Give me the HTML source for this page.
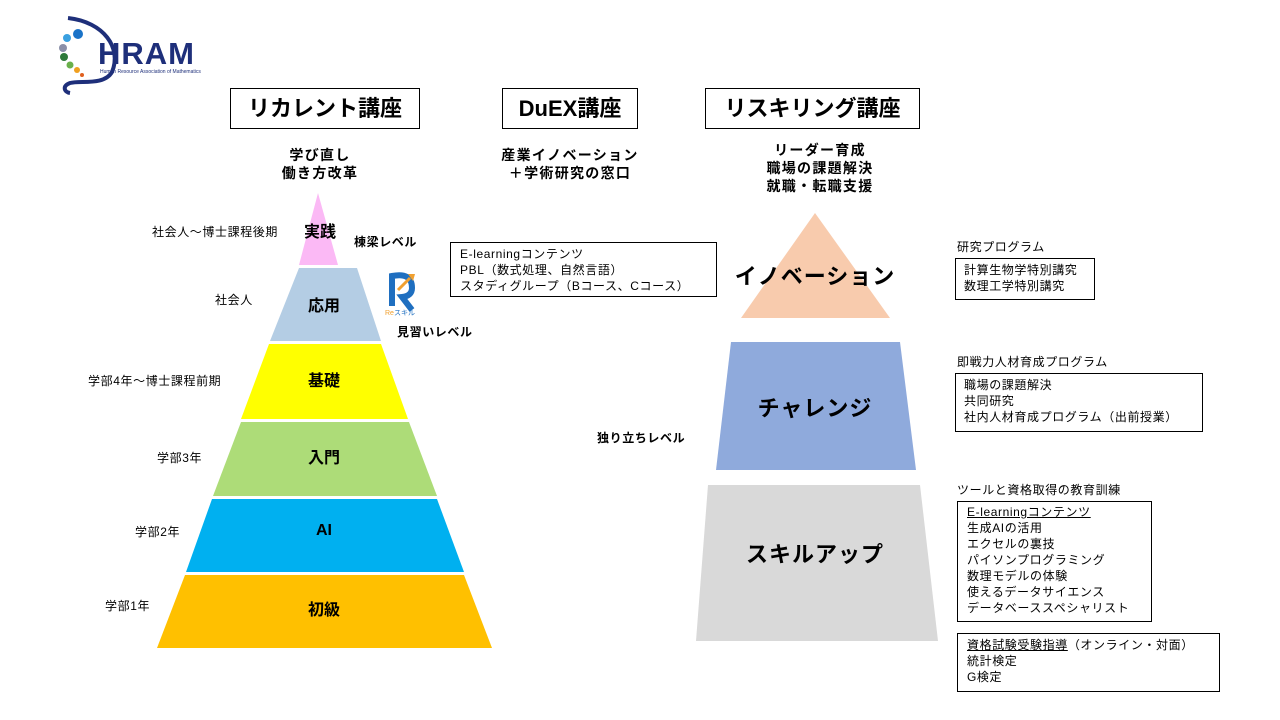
<!DOCTYPE html>
<html><head><meta charset="utf-8"><style>
body{margin:0;width:1280px;height:720px;background:#fff;position:relative;overflow:hidden;font-family:"Liberation Sans","Noto Sans CJK JP",sans-serif;color:#000}
.a{position:absolute;white-space:nowrap}
.box{position:absolute;border:1px solid #000;background:#fff}
.s{font-size:12px;line-height:16px;letter-spacing:0.6px}
.b{font-weight:bold}
.h{font-size:14px;line-height:18px;letter-spacing:1.3px}
.p{font-size:16px}
.r{font-size:22px;letter-spacing:1px}
</style></head><body>
<svg class="a" style="left:0;top:0" width="1280" height="720">
<path d="M68 18 C104 22 122 48 112 72 C104 86 80 80 70 83 C62 86 64 92 70 93" fill="none" stroke="#1e2f7a" stroke-width="4"/>
<circle cx="78" cy="34" r="5" fill="#1a73c8"/><circle cx="67" cy="38" r="4" fill="#3aa0e0"/>
<circle cx="63" cy="48" r="4" fill="#8a8fa8"/><circle cx="64" cy="57" r="4" fill="#2e7a3a"/>
<circle cx="70" cy="65" r="3.5" fill="#6ab04c"/><circle cx="77" cy="70" r="3" fill="#f0a020"/><circle cx="82" cy="75" r="2" fill="#e06020"/>
<text x="98" y="64" font-family="Liberation Sans" font-weight="bold" font-size="31" letter-spacing="1" fill="#1e2f7a">HRAM</text>
<text x="100" y="73" font-family="Liberation Sans" font-size="5" fill="#1e2f7a">Human Resource Association of Mathematics</text>
<polygon points="318,193 338,265 299,265" fill="#fbb9f5"/>
<polygon points="299,268 357,268 381,341 270,341" fill="#b4cde4"/>
<polygon points="269,344 381,344 408,419 241,419" fill="#ffff00"/>
<polygon points="241,422 409,422 437,496 213,496" fill="#addc78"/>
<polygon points="212,499 437,499 464,572 186,572" fill="#00b0f0"/>
<polygon points="185,575 464,575 492,648 157,648" fill="#ffc000"/>
<polygon points="815,213 890,318 741,318" fill="#f8cbad"/>
<polygon points="731,342 900,342 916,470 716,470" fill="#8faadc"/>
<polygon points="708,485 920,485 938,641 696,641" fill="#d9d9d9"/>
<path d="M392 306 L392 276 Q412 272 412 288 Q412 296 402 297 L412 310" fill="none" stroke="#1f6fc0" stroke-width="6"/>
<line x1="398" y1="290" x2="410" y2="278" stroke="#f0a030" stroke-width="3"/>
<polygon points="408,274 415,274 413,281" fill="#f0a030"/>
<text x="385" y="315" font-size="7" fill="#f0a030" font-family="Liberation Sans,Noto Sans CJK JP">Re<tspan fill="#1f6fc0">スキル</tspan></text>
<path d="M512 119 q2 -2 4 0 t4 0 t4 0 t4 0 t4 0 t4 0" stroke="#e03030" fill="none" stroke-width="0.8"/>
</svg>

<div class="box b" style="left:230px;top:88px;width:188px;height:39px;font-size:22px;line-height:39px;text-align:center">リカレント講座</div>
<div class="box b" style="left:502px;top:88px;width:134px;height:39px;font-size:22px;line-height:39px;text-align:center">DuEX講座</div>
<div class="box b" style="left:705px;top:88px;width:213px;height:39px;font-size:22px;line-height:39px;text-align:center">リスキリング講座</div>

<div class="a b h" style="left:260px;top:146px;width:120px;text-align:center">学び直し<br>働き方改革</div>
<div class="a b h" style="left:470px;top:146px;width:200px;text-align:center">産業イノベーション<br>＋学術研究の窓口</div>
<div class="a b h" style="left:730px;top:141px;width:180px;text-align:center">リーダー育成<br>職場の課題解決<br>就職・転職支援</div>

<div class="a b p" style="left:298px;top:218px;width:44px;text-align:center">実践</div>
<div class="a b p" style="left:294px;top:292px;width:60px;text-align:center">応用</div>
<div class="a b p" style="left:294px;top:367px;width:60px;text-align:center">基礎</div>
<div class="a b p" style="left:294px;top:444px;width:60px;text-align:center">入門</div>
<div class="a b p" style="left:294px;top:522px;width:60px;text-align:center">AI</div>
<div class="a b p" style="left:294px;top:596px;width:60px;text-align:center">初級</div>

<div class="a s" style="left:152px;top:224px">社会人～博士課程後期</div>
<div class="a s" style="left:215px;top:292px">社会人</div>
<div class="a s" style="left:88px;top:373px">学部4年～博士課程前期</div>
<div class="a s" style="left:157px;top:450px">学部3年</div>
<div class="a s" style="left:135px;top:524px">学部2年</div>
<div class="a s" style="left:105px;top:598px">学部1年</div>
<div class="a s b" style="left:354px;top:234px">棟梁レベル</div>
<div class="a s b" style="left:397px;top:324px">見習いレベル</div>
<div class="a s b" style="left:597px;top:430px">独り立ちレベル</div>

<div class="box s" style="left:450px;top:242px;width:267px;height:55px;padding:3px 0 0 9px;box-sizing:border-box">E-learningコンテンツ<br>PBL（数式処理、自然言語）<br>スタディグループ（Bコース、Cコース）</div>

<div class="a b r" style="left:705px;top:259px;width:220px;text-align:center">イノベーション</div>
<div class="a b r" style="left:705px;top:391px;width:220px;text-align:center">チャレンジ</div>
<div class="a b r" style="left:705px;top:537px;width:220px;text-align:center">スキルアップ</div>

<div class="a s" style="left:957px;top:239px">研究プログラム</div>
<div class="box s" style="left:955px;top:258px;width:140px;height:42px;padding:3px 0 0 8px;box-sizing:border-box">計算生物学特別講究<br>数理工学特別講究</div>
<div class="a s" style="left:957px;top:354px">即戦力人材育成プログラム</div>
<div class="box s" style="left:955px;top:373px;width:248px;height:59px;padding:3px 0 0 8px;box-sizing:border-box">職場の課題解決<br>共同研究<br>社内人材育成プログラム（出前授業）</div>
<div class="a s" style="left:957px;top:482px">ツールと資格取得の教育訓練</div>
<div class="box s" style="left:957px;top:501px;width:195px;height:121px;padding:2px 0 0 9px;box-sizing:border-box"><u>E-learningコンテンツ</u><br>生成AIの活用<br>エクセルの裏技<br>パイソンプログラミング<br>数理モデルの体験<br>使えるデータサイエンス<br>データベーススペシャリスト</div>
<div class="box s" style="left:957px;top:633px;width:263px;height:59px;padding:3px 0 0 9px;box-sizing:border-box"><u>資格試験受験指導</u>（オンライン・対面）<br>統計検定<br>G検定</div>
</body></html>
